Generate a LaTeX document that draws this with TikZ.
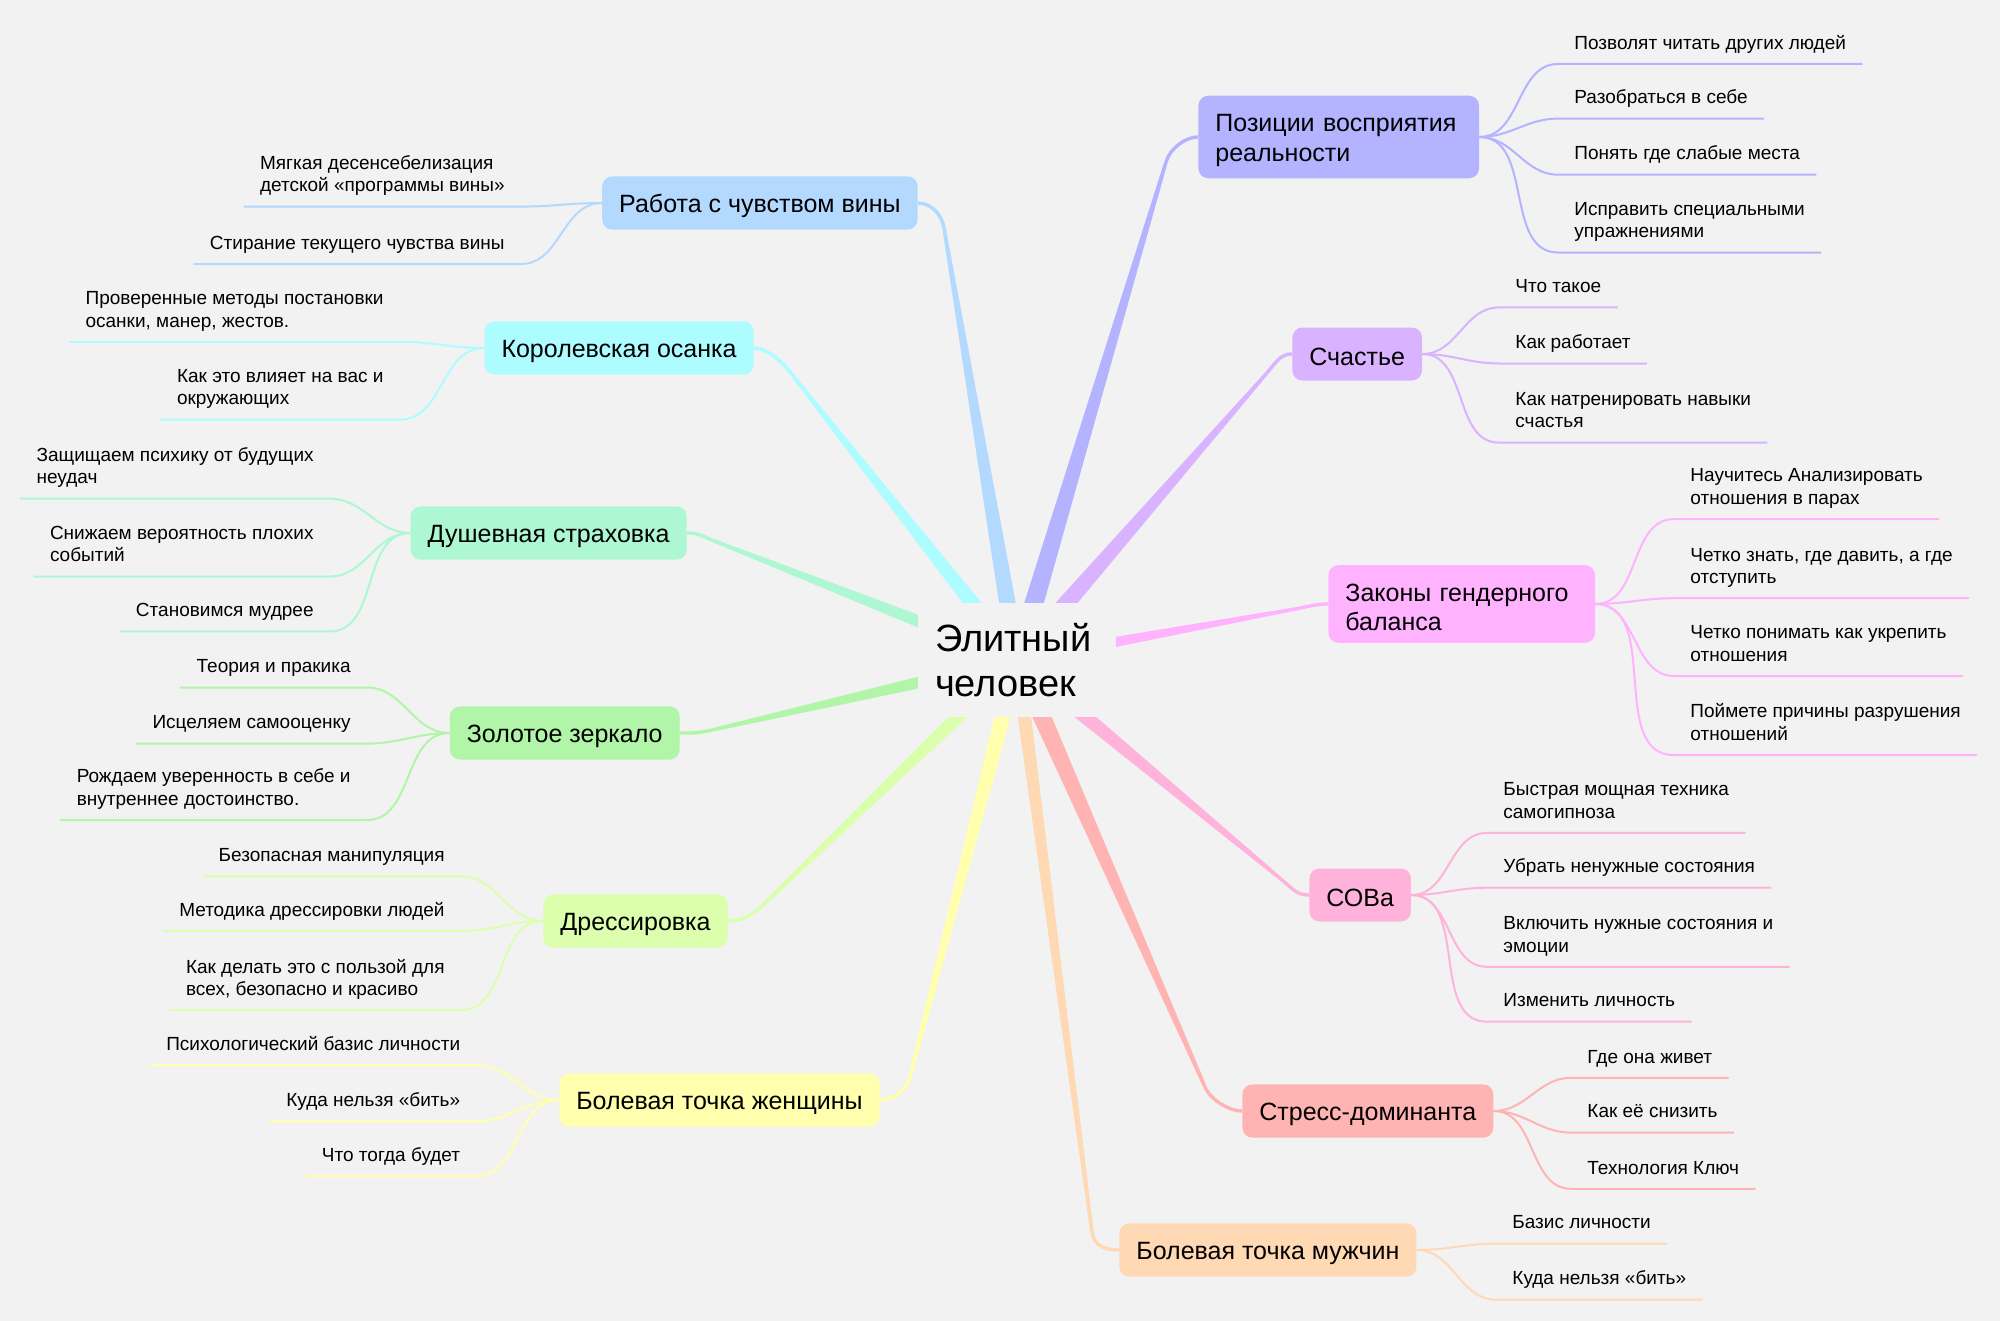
\documentclass[tikz,border=0pt]{standalone}
\usepackage{fontspec}
\setmainfont{Liberation Sans}
\usetikzlibrary{calc}
\pgfdeclarelayer{paperlayer}
\pgfdeclarelayer{linklayer}
\pgfsetlayers{paperlayer,linklayer,main}

\definecolor{paper}{HTML}{F2F2F2}
\definecolor{cA}{HTML}{B3D9FF}
\definecolor{cB}{HTML}{ADFCFF}
\definecolor{cC}{HTML}{ADF7D2}
\definecolor{cD}{HTML}{B0F5A8}
\definecolor{cE}{HTML}{DBFFAD}
\definecolor{cF}{HTML}{FFFFAD}
\definecolor{cG}{HTML}{B3B3FF}
\definecolor{cH}{HTML}{D9B3FF}
\definecolor{cI}{HTML}{FFB3FF}
\definecolor{cJ}{HTML}{FFB3DB}
\definecolor{cK}{HTML}{FFB3B3}
\definecolor{cL}{HTML}{FFD9B3}

\tikzset{
  topic/.style={rounded corners=5pt, fill=#1, inner xsep=8.5pt, inner ysep=6pt,
    minimum height=26.5pt, align=left, font=\fontsize{12.5}{14.7}\selectfont, text=black,
    execute at begin node={\rule{0pt}{12pt}}},
  leafR/.style={anchor=south west, inner xsep=8pt, inner ysep=4.8pt, text depth=2.4pt,
    align=left, font=\fontsize{9.5}{11.2}\selectfont, text=black},
  leafL/.style={leafR, anchor=south east},
  leafline/.style={draw=#1, line width=1pt},
}

% colour, bend coordinate, target anchor, half width at centre, control dx
\newcommand{\mainlink}[5]{%
  \fill[#1] ($(c.center)!#4!90:(#2)$) -- ($(#2)!0.85pt!-90:(c.center)$) --
    ($(#2)!0.85pt!90:(c.center)$) -- ($(c.center)!#4!-90:(#2)$) -- cycle;
  \draw[#1, line width=1.7pt] (#2) .. controls ($(#2)!-7.5pt!(c.center)$) and ($(#3)+(#5,0)$) .. (#3);
}
\newcommand{\leafright}[3]{\draw[leafline=#3] (#1.east) to[out=0,in=180] (#2.south west) -- (#2.south east);}
\newcommand{\leafleft}[3]{\draw[leafline=#3] (#1.west) to[out=180,in=0] (#2.south east) -- (#2.south west);}

\begin{document}
\begin{tikzpicture}[x=0.5pt,y=-0.5pt]
\useasboundingbox (0,0) rectangle (2000,1321);
\begin{pgfonlayer}{paperlayer}
  \fill[paper] (0,0) rectangle (2000,1321);
\end{pgfonlayer}

% central topic
\node[fill=paper, minimum width=99pt, minimum height=57pt, text width=82pt, inner xsep=8.5pt,
  align=left, font=\fontsize{19}{22.5}\selectfont] (c) at (1017,660) {Элитный\\человек};

% main topics, left
\node[topic=cA, anchor=east] (A) at (918,203) {Работа с чувством вины};
\node[topic=cB, anchor=east] (B) at (754,348) {Королевская осанка};
\node[topic=cC, anchor=east] (C) at (687,533) {Душевная страховка};
\node[topic=cD, anchor=east] (D) at (680,733) {Золотое зеркало};
\node[topic=cE, anchor=east] (E) at (728,921) {Дрессировка};
\node[topic=cF, anchor=east] (F) at (880,1100) {Болевая точка женщины};
% main topics, right
\node[topic=cG, anchor=west, text width=123.3pt] (G) at (1198,137) {Позиции восприятия\\реальности};
\node[topic=cH, anchor=west] (H) at (1292,354) {Счастье};
\node[topic=cI, anchor=west, text width=116.3pt] (I) at (1328,604) {Законы гендерного\\баланса};
\node[topic=cJ, anchor=west] (J) at (1309,895) {СОВа};
\node[topic=cK, anchor=west] (K) at (1242,1111) {Стресс-доминанта};
\node[topic=cL, anchor=west] (L) at (1119,1250) {Болевая точка мужчин};

% leaves, left
\node[leafL] (a1) at (521,206.6) {Мягкая десенсебелизация\\детской «программы вины»};
\node[leafL] (a2) at (521,264) {Стирание текущего чувства вины};
\node[leafL] (b1) at (400,341.8) {Проверенные методы постановки\\осанки, манер, жестов.};
\node[leafL] (b2) at (400,419.6) {Как это влияет на вас и\\окружающих};
\node[leafL] (c1) at (330,498.7) {Защищаем психику от будущих\\неудач};
\node[leafL] (c2) at (330,576.5) {Снижаем вероятность плохих\\событий};
\node[leafL] (c3) at (330,631.4) {Становимся мудрее};
\node[leafL] (d1) at (367,687.5) {Теория и пракика};
\node[leafL] (d2) at (367,743.6) {Исцеляем самооценку};
\node[leafL] (d3) at (367,820) {Рождаем уверенность в себе и\\внутреннее достоинство.};
\node[leafL] (e1) at (461,876.3) {Безопасная манипуляция};
\node[leafL] (e2) at (461,931.1) {Методика дрессировки людей};
\node[leafL] (e3) at (461,1010.2) {Как делать это с пользой для\\всех, безопасно и красиво};
\node[leafL] (f1) at (476.5,1065) {Психологический базис личности};
\node[leafL] (f2) at (476.5,1121.2) {Куда нельзя «бить»};
\node[leafL] (f3) at (476.5,1176) {Что тогда будет};
% leaves, right
\node[leafR] (g1) at (1558,64) {Позволят читать других людей};
\node[leafR] (g2) at (1558,118.6) {Разобраться в себе};
\node[leafR] (g3) at (1558,174.7) {Понять где слабые места};
\node[leafR] (g4) at (1558,252.5) {Исправить специальными\\упражнениями};
\node[leafR] (h1) at (1499,307.4) {Что такое};
\node[leafR] (h2) at (1499,363.5) {Как работает};
\node[leafR] (h3) at (1499,442.6) {Как натренировать навыки\\счастья};
\node[leafR] (i1) at (1674,519.1) {Научитесь Анализировать\\отношения в парах};
\node[leafR] (i2) at (1674,598.2) {Четко знать, где давить, а где\\отступить};
\node[leafR] (i3) at (1674,676) {Четко понимать как укрепить\\отношения};
\node[leafR] (i4) at (1674,755.1) {Поймете причины разрушения\\отношений};
\node[leafR] (j1) at (1487,832.9) {Быстрая мощная техника\\самогипноза};
\node[leafR] (j2) at (1487,887.7) {Убрать ненужные состояния};
\node[leafR] (j3) at (1487,966.8) {Включить нужные состояния и\\эмоции};
\node[leafR] (j4) at (1487,1021.7) {Изменить личность};
\node[leafR] (k1) at (1571,1077.8) {Где она живет};
\node[leafR] (k2) at (1571,1132.6) {Как её снизить};
\node[leafR] (k3) at (1571,1188.8) {Технология Ключ};
\node[leafR] (l1) at (1496,1243.6) {Базис личности};
\node[leafR] (l2) at (1496,1299.7) {Куда нельзя «бить»};

% bend points of the main connectors
\coordinate (pA) at (944,228);
\coordinate (pB) at (790,372);
\coordinate (pC) at (712,540);
\coordinate (pD) at (712,730);
\coordinate (pE) at (762,906);
\coordinate (pF) at (910,1077);
\coordinate (pG) at (1166,162);
\coordinate (pH) at (1266,374);
\coordinate (pI) at (1295,609);
\coordinate (pJ) at (1282,880);
\coordinate (pK) at (1205,1087);
\coordinate (pL) at (1092,1232);

\begin{pgfonlayer}{linklayer}
  \mainlink{cA}{pA}{A.east}{4.6pt}{12}
  \mainlink{cB}{pB}{B.east}{4.4pt}{12}
  \mainlink{cC}{pC}{C.east}{4.0pt}{12}
  \mainlink{cD}{pD}{D.east}{3.8pt}{12}
  \mainlink{cE}{pE}{E.east}{4.0pt}{12}
  \mainlink{cF}{pF}{F.east}{4.4pt}{12}
  \mainlink{cG}{pG}{G.west}{5.2pt}{-12}
  \mainlink{cH}{pH}{H.west}{5.0pt}{-12}
  \mainlink{cI}{pI}{I.west}{3.4pt}{-12}
  \mainlink{cJ}{pJ}{J.west}{4.4pt}{-12}
  \mainlink{cK}{pK}{K.west}{5.0pt}{-12}
  \mainlink{cL}{pL}{L.west}{3.6pt}{-12}

  \leafleft{A}{a1}{cA} \leafleft{A}{a2}{cA}
  \leafleft{B}{b1}{cB} \leafleft{B}{b2}{cB}
  \leafleft{C}{c1}{cC} \leafleft{C}{c2}{cC} \leafleft{C}{c3}{cC}
  \leafleft{D}{d1}{cD} \leafleft{D}{d2}{cD} \leafleft{D}{d3}{cD}
  \leafleft{E}{e1}{cE} \leafleft{E}{e2}{cE} \leafleft{E}{e3}{cE}
  \leafleft{F}{f1}{cF} \leafleft{F}{f2}{cF} \leafleft{F}{f3}{cF}
  \leafright{G}{g1}{cG} \leafright{G}{g2}{cG} \leafright{G}{g3}{cG} \leafright{G}{g4}{cG}
  \leafright{H}{h1}{cH} \leafright{H}{h2}{cH} \leafright{H}{h3}{cH}
  \leafright{I}{i1}{cI} \leafright{I}{i2}{cI} \leafright{I}{i3}{cI} \leafright{I}{i4}{cI}
  \leafright{J}{j1}{cJ} \leafright{J}{j2}{cJ} \leafright{J}{j3}{cJ} \leafright{J}{j4}{cJ}
  \leafright{K}{k1}{cK} \leafright{K}{k2}{cK} \leafright{K}{k3}{cK}
  \leafright{L}{l1}{cL} \leafright{L}{l2}{cL}
\end{pgfonlayer}
\end{tikzpicture}
\end{document}
